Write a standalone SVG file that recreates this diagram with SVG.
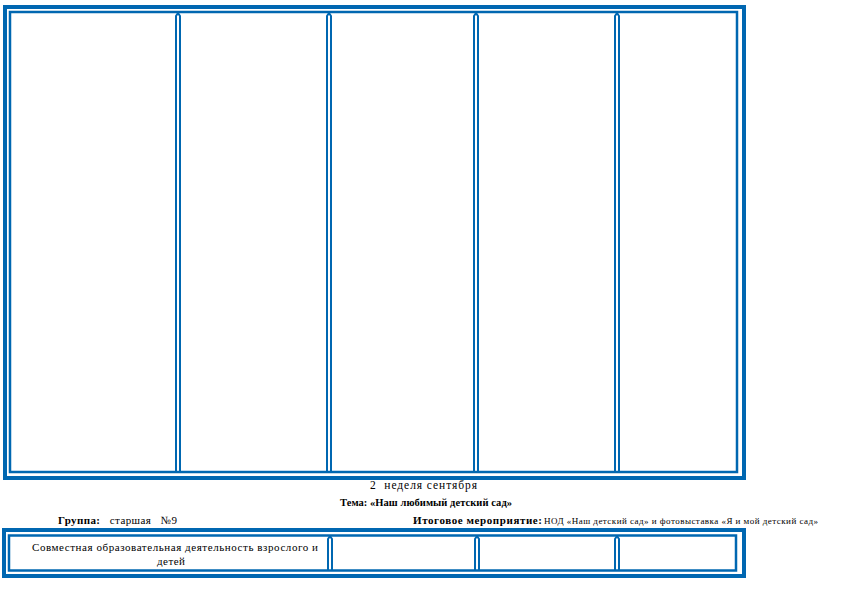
<svg xmlns="http://www.w3.org/2000/svg" width="842" height="595" viewBox="0 0 842 595">
<style>
.o{fill:none;stroke:#0067B1;stroke-width:4}
.i{fill:none;stroke:#0067B1;stroke-width:2.5}
.s{fill:none;stroke:#0067B1;stroke-width:2}
text{font-family:"Liberation Serif","Times New Roman","DejaVu Serif",serif;fill:#000}
.b{font-weight:bold}
</style>
<rect width="842" height="595" fill="#fff"/>
<g id="top-table">
<rect class="o" x="5" y="7" width="739" height="471"/>
<rect class="i" x="10" y="12" width="727" height="460"/>
</g>
<g id="connectors">
<g id="top-separators">
<path class="s" d="M176 472V16L178 13M180 472V16L178 13"/>
<path class="s" d="M327 472V16L329 13M331 472V16L329 13"/>
<path class="s" d="M474 472V16L476 13M478 472V16L476 13"/>
<path class="s" d="M615 472V16L617 13M619 472V16L617 13"/>
</g>
<g id="bottom-separators">
<path class="s" d="M328 570V539L330 536M332 570V539L330 536"/>
<path class="s" d="M475 570V539L477 536M479 570V539L477 536"/>
<path class="s" d="M615 570V539L617 536M619 570V539L617 536"/>
</g>
</g>
<g id="header-texts">
<text x="370" y="489" font-size="11.5" textLength="107" lengthAdjust="spacing" xml:space="preserve">2  неделя сентября</text>
<text class="b" x="340" y="506" font-size="10.5" textLength="172" lengthAdjust="spacing">Тема: «Наш любимый детский сад»</text>
<text class="b" x="58" y="524" font-size="11" textLength="119" lengthAdjust="spacing" xml:space="preserve">Группа:   <tspan font-weight="normal">старшая   №9</tspan></text>
<text class="b" x="413" y="524" font-size="11" textLength="129" lengthAdjust="spacing">Итоговое мероприятие:</text>
<text x="544" y="524" font-size="9" textLength="274" lengthAdjust="spacing">НОД «Наш детский сад» и фотовыставка «Я и мой детский сад»</text>
</g>
<g id="bottom-table">
<rect class="o" x="4" y="530" width="740" height="46"/>
<rect class="i" x="9" y="535.5" width="727" height="35"/>
<text x="32" y="551" font-size="11" textLength="286" lengthAdjust="spacing">Совместная образовательная деятельность взрослого и</text>
<text x="157" y="565" font-size="11" textLength="28" lengthAdjust="spacing">детей</text>
</g>
</svg>
